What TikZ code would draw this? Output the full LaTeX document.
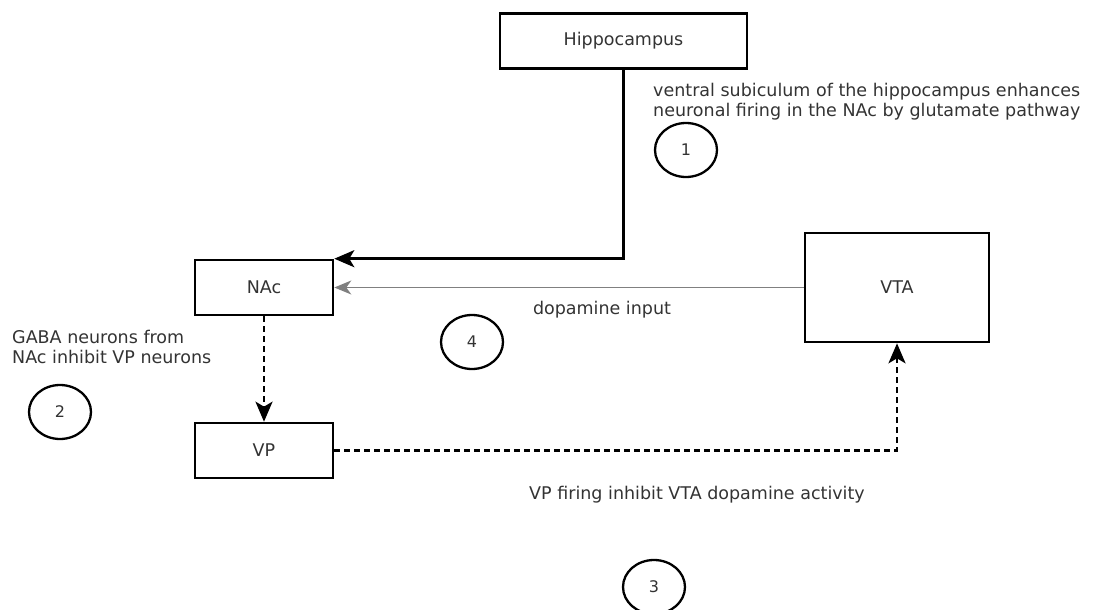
\documentclass[tikz,border=0pt]{standalone}
\usepackage{fontspec}
\setmainfont{DejaVu Sans}
\usetikzlibrary{arrows.meta, shapes.geometric}
\tikzset{
    region/.style={draw, line width=2.6pt, rectangle, inner sep=0pt, text=black!80,
        font=\fontsize{17.5}{20}\selectfont},
    marker/.style={draw, line width=2.3pt, ellipse, minimum width=62pt, minimum height=54pt,
        inner sep=0pt, text=black!80, font=\fontsize{16}{18}\selectfont},
    note/.style={inner sep=0pt, text=black!80, align=left, font=\fontsize{17.5}{20}\selectfont},
    pathway/.style={line width=2.6pt, -{Stealth[length=20pt, width=17pt, inset=5pt]}},
    inhibit/.style={pathway, dash pattern=on 6pt off 4pt},
    dopa/.style={line width=1.5pt, gray, -{Stealth[length=17pt, width=14pt, inset=5pt]}}
}
\begin{document}
\begin{tikzpicture}[x=1pt, y=-1pt]
            \useasboundingbox (0, 0) rectangle (1100, 610);

            \node[region, minimum width=247pt, minimum height=55pt] (hippo) at (623.5, 41) {Hippocampus};
            \node[region, minimum width=138pt, minimum height=55pt] (nac) at (264, 287.5) {NAc};
            \node[region, minimum width=138pt, minimum height=55pt] (vp) at (264, 450.5) {VP};
            \node[region, minimum width=184pt, minimum height=109pt] (vta) at (897, 287.5) {VTA};

            \node[marker] (m1) at (686, 150) {1};
            \node[marker] (m2) at (60, 412) {2};
            \node[marker] (m3) at (654, 587) {3};
            \node[marker] (m4) at (472, 342) {4};

            \node[note, anchor=west] (t1) at (653, 102) {ventral subiculum of the hippocampus enhances\\neuronal firing in the NAc by glutamate pathway};
            \node[note, anchor=west] (t2) at (12, 347) {GABA neurons from\\NAc inhibit VP neurons};
            \node[note] (t4) at (602, 310) {dopamine input};
            \node[note] (t3) at (697, 495) {VP firing inhibit VTA dopamine activity};

            \draw[pathway] (hippo) |- (nac.north east);
            \draw[dopa] (vta) -- (nac);
            \draw[inhibit] (nac) -- (vp);
            \draw[inhibit] (vp) -| (vta);

        \end{tikzpicture}
\end{document}
